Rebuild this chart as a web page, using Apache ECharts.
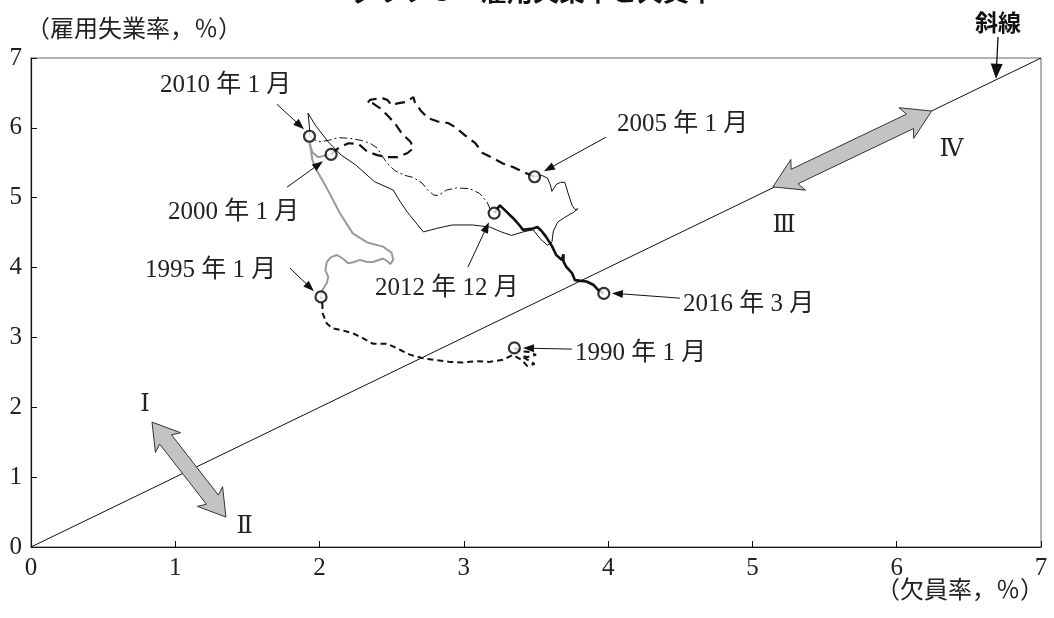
<!DOCTYPE html>
<html><head><meta charset="utf-8">
<script src="https://cdn.jsdelivr.net/npm/echarts@6/dist/echarts.min.js"></script>
<style>html,body{margin:0;padding:0;background:#fff}#c{width:1054px;height:618px}</style>
</head><body><div id="c"></div>
<script>
// ---- data (x: 欠員率 %, y: 雇用失業率 %) ----
const xTicks = [0,1,2,3,4,5,6,7];
const yTicks = [0,1,2,3,4,5,6,7];
const diagonal = [[0,0],[7,7]];
const s1990_1995 = [[3.35,2.85],[3.40,2.80],[3.46,2.79],[3.50,2.75],[3.44,2.72],[3.40,2.73],[3.46,2.66],[3.49,2.62],[3.44,2.59],[3.40,2.68],[3.34,2.75],[3.27,2.68],[3.18,2.65],[3.09,2.66],[2.99,2.64],[2.90,2.65],[2.79,2.68],[2.72,2.70],[2.63,2.75],[2.56,2.82],[2.47,2.91],[2.37,2.91],[2.30,2.99],[2.23,3.06],[2.16,3.10],[2.09,3.13],[2.05,3.20],[2.02,3.35],[2.02,3.46],[2.01,3.58]];
const s1995_2000 = [[2.01,3.58],[2.02,3.68],[2.05,3.78],[2.06,3.87],[2.04,3.96],[2.05,4.08],[2.08,4.15],[2.12,4.18],[2.16,4.13],[2.20,4.06],[2.24,4.08],[2.28,4.11],[2.33,4.08],[2.37,4.08],[2.44,4.13],[2.47,4.09],[2.49,4.05],[2.51,4.11],[2.50,4.21],[2.44,4.30],[2.33,4.36],[2.23,4.49],[2.14,4.78],[2.07,5.06],[2.02,5.25],[1.98,5.39],[1.95,5.54],[1.94,5.68],[1.93,5.79],[1.95,5.65],[1.99,5.58],[2.05,5.61],[2.08,5.62]];
const s2000_2005 = [[2.08,5.62],[2.13,5.71],[2.20,5.78],[2.27,5.77],[2.33,5.66],[2.40,5.61],[2.47,5.58],[2.54,5.58],[2.61,5.64],[2.65,5.71],[2.63,5.80],[2.57,5.92],[2.52,6.07],[2.47,6.18],[2.42,6.28],[2.37,6.35],[2.33,6.35],[2.35,6.40],[2.43,6.43],[2.47,6.40],[2.50,6.32],[2.54,6.35],[2.60,6.37],[2.65,6.44],[2.66,6.37],[2.70,6.25],[2.75,6.14],[2.82,6.09],[2.89,6.07],[2.94,6.01],[3.01,5.89],[3.08,5.78],[3.13,5.64],[3.20,5.57],[3.27,5.49],[3.34,5.44],[3.41,5.37],[3.49,5.30]];
const s2005_2010 = [[3.49,5.30],[3.54,5.32],[3.58,5.28],[3.60,5.18],[3.61,5.09],[3.64,5.19],[3.67,5.22],[3.70,5.22],[3.72,5.08],[3.75,4.89],[3.77,4.83],[3.79,4.84],[3.76,4.79],[3.70,4.72],[3.65,4.65],[3.62,4.52],[3.61,4.36],[3.58,4.32],[3.53,4.41],[3.48,4.54],[3.41,4.51],[3.33,4.46],[3.26,4.51],[3.18,4.58],[3.06,4.61],[2.92,4.61],[2.81,4.56],[2.72,4.51],[2.68,4.61],[2.61,4.79],[2.56,4.94],[2.51,5.11],[2.38,5.23],[2.25,5.47],[2.15,5.61],[2.06,5.80],[1.97,6.04],[1.92,6.21],[1.93,6.01],[1.93,5.88]];
const s2010_2012 = [[1.93,5.88],[1.99,5.80],[2.06,5.82],[2.13,5.86],[2.21,5.85],[2.29,5.82],[2.35,5.78],[2.40,5.71],[2.43,5.61],[2.47,5.49],[2.52,5.39],[2.59,5.32],[2.65,5.29],[2.71,5.21],[2.75,5.11],[2.79,5.04],[2.82,5.03],[2.88,5.11],[2.95,5.14],[3.04,5.13],[3.11,5.06],[3.16,4.94],[3.18,4.85],[3.21,4.78]];
const s2012_2016 = [[3.21,4.78],[3.25,4.89],[3.30,4.79],[3.34,4.71],[3.38,4.62],[3.41,4.54],[3.48,4.56],[3.51,4.58],[3.54,4.52],[3.57,4.44],[3.61,4.31],[3.64,4.18],[3.68,4.11],[3.69,4.19],[3.69,4.09],[3.71,4.01],[3.75,3.92],[3.77,3.82],[3.81,3.81],[3.85,3.80],[3.90,3.75],[3.93,3.68],[3.97,3.63]];
const markerNames = ['1990 年 1 月','1995 年 1 月','2000 年 1 月','2005 年 1 月','2010 年 1 月','2012 年 12 月','2016 年 3 月'];
const markerValues = [[3.35,2.85],[2.01,3.58],[2.08,5.62],[3.49,5.30],[1.93,5.88],[3.21,4.78],[3.97,3.63]];

// ---- annotation layout (data coordinates) ----
const labelAnchors = [[3.77,2.775],[0.79,3.963],[0.949,4.793],[4.061,6.052],[0.894,6.609],[2.384,3.705],[4.518,3.476]];
const arrowTails = [[3.749,2.833],[1.795,3.991],[1.774,5.150],[3.985,5.866],[1.705,6.338],[3.028,4.006],[4.498,3.562]];
const arrowHeads = [[3.41,2.847],[1.961,3.662],[2.024,5.522],[3.555,5.379],[1.892,5.980],[3.174,4.650],[4.026,3.634]];
const romans = ['Ⅰ','Ⅱ','Ⅲ','Ⅳ'];
const romanPos = [[0.79,2.03],[1.48,0.29],[5.22,4.6],[6.38,5.68]];
const bigArrows = [[[0.839,1.788],[1.351,0.429]],[[5.142,5.155],[6.242,6.241]]];

const SERIF = "'Liberation Serif','DejaVu Serif','Noto Sans CJK JP',serif";
const chart = echarts.init(document.getElementById('c'));

const lineBase = {type:'line', showSymbol:false, symbol:'none', silent:true, z:3};
const option = {
  animation:false,
  backgroundColor:'#fff',
  grid:{left:31,right:13,top:58,bottom:71,show:true,borderColor:'#666',borderWidth:1},
  xAxis:{type:'value',min:0,max:7,interval:1,
    axisLine:{onZero:false,lineStyle:{color:'#111',width:1.2}},
    axisTick:{inside:true,length:6,lineStyle:{color:'#111'}},
    axisLabel:{fontFamily:SERIF,fontSize:25,color:'#222',margin:9,formatter:v=>xTicks.includes(v)?String(v):''},
    splitLine:{show:false}},
  yAxis:{type:'value',min:0,max:7,interval:1,
    axisLine:{onZero:false,lineStyle:{color:'#111',width:1.2}},
    axisTick:{inside:true,length:6,lineStyle:{color:'#111'}},
    axisLabel:{fontFamily:SERIF,fontSize:25,color:'#222',margin:9,formatter:v=>yTicks.includes(v)?String(v):''},
    splitLine:{show:false}},
  series:[
    Object.assign({},lineBase,{name:'斜線',data:diagonal,lineStyle:{color:'#111',width:1},z:2}),
    Object.assign({},lineBase,{name:'1990-1995',data:s1990_1995,lineStyle:{color:'#111',width:2,type:[6,4]}}),
    Object.assign({},lineBase,{name:'1995-2000',data:s1995_2000,lineStyle:{color:'#9a9a9a',width:2}}),
    Object.assign({},lineBase,{name:'2000-2005',data:s2000_2005,lineStyle:{color:'#111',width:2.2,type:[10,6]}}),
    Object.assign({},lineBase,{name:'2005-2010',data:s2005_2010,lineStyle:{color:'#111',width:1}}),
    Object.assign({},lineBase,{name:'2010-2012',data:s2010_2012,lineStyle:{color:'#111',width:1,type:[8,3,2,3]}}),
    Object.assign({},lineBase,{name:'2012-2016',data:s2012_2016,lineStyle:{color:'#111',width:2.6}}),
    {type:'scatter',name:'markers',data:markerValues.map((v,i)=>({name:markerNames[i],value:v})),
     symbol:'circle',symbolSize:11,itemStyle:{color:'#fff',borderColor:'#000',borderWidth:2.2},z:5,silent:true}
  ]
};
chart.setOption(option);

const px = p => chart.convertToPixel({gridIndex:0}, p);
const g = [];
// title (cut off at top as in reference)
g.push({type:'text',z:50,style:{text:'グラフ３　雇用失業率と欠員率',x:533,y:4,align:'center',verticalAlign:'bottom',font:"bold 26px 'Noto Sans CJK JP'",fill:'#111'}});
// axis names
g.push({type:'text',z:50,style:{text:'（雇用失業率，％）',x:26,y:31,align:'left',verticalAlign:'middle',font:"24px "+SERIF,fill:'#222'}});
g.push({type:'text',z:50,style:{text:'（欠員率，％）',x:1044,y:592,align:'right',verticalAlign:'middle',font:"24px "+SERIF,fill:'#222'}});
// 斜線 label & arrow
g.push({type:'text',z:50,style:{text:'斜線',x:998,y:22,align:'center',verticalAlign:'middle',font:"bold 23px 'Noto Sans CJK JP'",fill:'#111'}});

function smallArrow(t,h,hl,hw,lw){
  const dx=h[0]-t[0], dy=h[1]-t[1], L=Math.hypot(dx,dy), ux=dx/L, uy=dy/L, nx=-uy, ny=ux;
  const bx=h[0]-ux*hl, by=h[1]-uy*hl;
  g.push({type:'line',z:40,shape:{x1:t[0],y1:t[1],x2:bx+ux*1,y2:by+uy*1},style:{stroke:'#111',lineWidth:lw}});
  g.push({type:'polygon',z:40,shape:{points:[[h[0],h[1]],[bx+nx*hw,by+ny*hw],[bx-nx*hw,by-ny*hw]]},style:{fill:'#111'}});
}
// 斜線 arrow: tail above plot to the diagonal
const diagHit = px([6.688,6.688]);
smallArrow([998,37],[diagHit[0],diagHit[1]-1],15,6,1.3);

// date labels and arrows
labelAnchors.forEach((a,i)=>{
  const p = px(a);
  g.push({type:'text',z:50,style:{text:markerNames[i],x:p[0],y:p[1],align:'left',verticalAlign:'middle',font:"25px "+SERIF,fill:'#222'}});
  smallArrow(px(arrowTails[i]),px(arrowHeads[i]),11,4,1);
});
// roman numerals
romans.forEach((r,i)=>{
  const p = px(romanPos[i]);
  g.push({type:'text',z:50,style:{text:r,x:p[0],y:p[1],align:'center',verticalAlign:'middle',font:"24px 'DejaVu Serif','Liberation Serif',serif",fill:'#222'}});
});
// big double arrows
function bigArrow(a,b,w,hw,hl){
  const dx=b[0]-a[0], dy=b[1]-a[1], L=Math.hypot(dx,dy), ux=dx/L, uy=dy/L, nx=-uy, ny=ux;
  const P=(p,s,t)=>[p[0]+ux*s+nx*t,p[1]+uy*s+ny*t];
  const pts=[a,P(a,hl+4,hw),P(a,hl,w),P(b,-hl,w),P(b,-hl-4,hw),b,P(b,-hl-4,-hw),P(b,-hl,-w),P(a,hl,-w),P(a,hl+4,-hw)];
  g.push({type:'polygon',z:30,shape:{points:pts},style:{fill:'#c3c3c3',stroke:'#333',lineWidth:1}});
}
bigArrow(px(bigArrows[0][0]),px(bigArrows[0][1]),7.5,16,22);
bigArrow(px(bigArrows[1][0]),px(bigArrows[1][1]),8,17,24);

chart.setOption({graphic:{elements:g}});
</script>
</body></html>
